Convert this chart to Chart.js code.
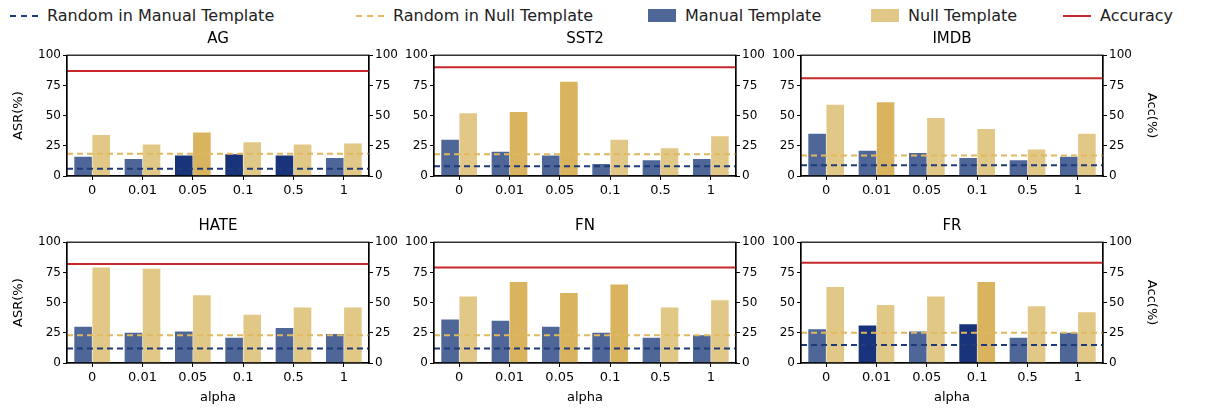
<!DOCTYPE html>
<html><head><meta charset="utf-8">
<script src="https://cdn.jsdelivr.net/npm/chart.js@4"></script>
<style>
body{margin:0;width:1205px;height:412px;background:#fff;position:relative;font-family:"DejaVu Sans",sans-serif;overflow:hidden}
.cv{position:absolute}
.ttl{position:absolute;font-size:15px;color:#000;text-align:center;width:302px}
#legend{position:absolute;top:6px;left:0;width:1205px;font-size:16px;color:#222}
.li{position:absolute;top:0;display:flex;align-items:center;white-space:nowrap}
.sw{display:inline-block;width:28px;margin-right:9px}
</style></head><body>
<div id="legend">
 <div class="li" style="left:10px"><span class="sw" style="border-top:2px dashed #1f3b7a"></span>Random in Manual Template</div>
 <div class="li" style="left:356px"><span class="sw" style="border-top:2px dashed #e0b860"></span>Random in Null Template</div>
 <div class="li" style="left:648px"><span class="sw" style="height:13px;background:#4f6698"></span>Manual Template</div>
 <div class="li" style="left:871px"><span class="sw" style="height:13px;background:#e2c887"></span>Null Template</div>
 <div class="li" style="left:1063px"><span class="sw" style="border-top:2px solid #c8282c"></span>Accuracy</div>
</div>
<script>
const alphas = ['0','0.01','0.05','0.1','0.5','1'];
const datasetNames = ['AG','SST2','IMDB','HATE','FN','FR'];
const manualASR = [
  [16,14,17,18,17,15],[30,20,17,10,13,14],[35,21,19,15,13,16],
  [30,25,26,21,29,24],[36,35,30,25,21,23],[28,31,26,32,21,25]];
const nullASR = [
  [34,26,36,28,26,27],[52,53,78,30,23,33],[59,61,48,39,22,35],
  [79,78,56,40,46,46],[55,67,58,65,46,52],[63,48,55,67,47,42]];
const manualBest = [[2,3,4],[],[],[],[],[1,3]];
const nullBest = [[2],[1,2],[1],[],[1,2,3],[3]];
const randomManual = [6,8,9,12,12,15];
const randomNull = [18.5,18,17,23,23,25];
const accuracy = [87,90,81,82,79,83];
const yTicks = [0,25,50,75,100];

const C = {mL:'#4f6698',mD:'#183379',nL:'#e2c887',nD:'#d9b35d',red:'#c8282c',dB:'#1f3b7a',dY:'#e0b860'};
const plotLefts = [67,434,801], plotTops = [51,238], PW = 302, PH = 125;
const PADT = 5, XH = 42;

const refLines = {
  id:'refLines',
  afterDatasetsDraw(chart, args, o){
    const {ctx, chartArea:a, scales} = chart;
    ctx.save();
    ctx.beginPath(); ctx.rect(a.left, a.top-2, a.width, a.height+2); ctx.clip();
    const hl = (y, col, dash) => {
      ctx.strokeStyle = col; ctx.lineWidth = 2; ctx.setLineDash(dash);
      ctx.beginPath(); ctx.moveTo(a.left, y); ctx.lineTo(a.right, y); ctx.stroke();
    };
    hl(scales.y.getPixelForValue(o.rm), C.dB, [6,4]);
    hl(scales.y.getPixelForValue(o.rn), C.dY, [6,4]);
    hl(scales.y2.getPixelForValue(o.acc), C.red, []);
    ctx.restore();
    ctx.save();
    ctx.strokeStyle = '#000'; ctx.lineWidth = 1.2;
    ctx.strokeRect(a.left, a.top, a.width, a.height);
    ctx.restore();
  }
};

for (let i = 0; i < 6; i++) {
  const r = Math.floor(i/3), c = i%3;
  const LW = c===0 ? 56 : 32, RW = c===2 ? 56 : 32;
  const cv = document.createElement('canvas');
  cv.className = 'cv';
  const w = PW + LW + RW, h = PADT + PH + XH;
  cv.style.left = (plotLefts[c]-LW)+'px';
  cv.style.top = (plotTops[r]-PADT)+'px';
  cv.style.width = w+'px'; cv.style.height = h+'px';
  cv.width = w; cv.height = h;
  document.body.appendChild(cv);
  const t = document.createElement('div');
  t.className = 'ttl'; t.textContent = datasetNames[i];
  t.style.left = plotLefts[c]+'px'; t.style.top = (plotTops[r]-22)+'px';
  document.body.appendChild(t);

  const tickFont = {family:'DejaVu Sans', size:12};
  const yAxis = (pos, title, wd) => ({
    position: pos, min:0, max:100,
    afterBuildTicks: ax => { ax.ticks = yTicks.map(v => ({value:v})); },
    afterFit: ax => { ax.width = wd; },
    grid:{drawOnChartArea:false, tickLength:4, tickColor:'#000', drawTicks:true},
    border:{color:'#000', width:1.2},
    ticks:{color:'#000', font:tickFont, padding:2},
    title:{display:!!title, text:title, color:'#000', font:{family:'DejaVu Sans', size:13}, padding:0}
  });

  new Chart(cv, {
    type:'bar',
    data:{
      labels: alphas,
      datasets:[
        {label:'Manual Template', data: manualASR[i],
         backgroundColor: manualASR[i].map((_,k)=> manualBest[i].includes(k)?C.mD:C.mL),
         categoryPercentage:0.72, barPercentage:0.97, yAxisID:'y'},
        {label:'Null Template', data: nullASR[i],
         backgroundColor: nullASR[i].map((_,k)=> nullBest[i].includes(k)?C.nD:C.nL),
         categoryPercentage:0.72, barPercentage:0.97, yAxisID:'y'}
      ]
    },
    options:{
      responsive:false, animation:false, devicePixelRatio:1,
      layout:{padding:{top:PADT, left:0, right:0, bottom:0}},
      plugins:{legend:{display:false}, tooltip:{enabled:false},
        refLines:{rm:randomManual[i], rn:randomNull[i], acc:accuracy[i]}},
      scales:{
        x:{offset:true, grid:{display:true, offset:false, drawOnChartArea:false, tickLength:4, tickColor:'#000'},
           border:{color:'#000', width:1.2},
           afterFit: ax => { ax.height = XH; },
           ticks:{color:'#000', font:{family:'DejaVu Sans', size:13}, padding:3, maxRotation:0},
           title:{display:r===1, text:'alpha', color:'#000', font:{family:'DejaVu Sans', size:13}, padding:0}},
        y: yAxis('left', c===0?'ASR(%)':'', LW),
        y2: yAxis('right', c===2?'Acc(%)':'', RW)
      }
    },
    plugins:[refLines]
  });
}
</script>
</body></html>
